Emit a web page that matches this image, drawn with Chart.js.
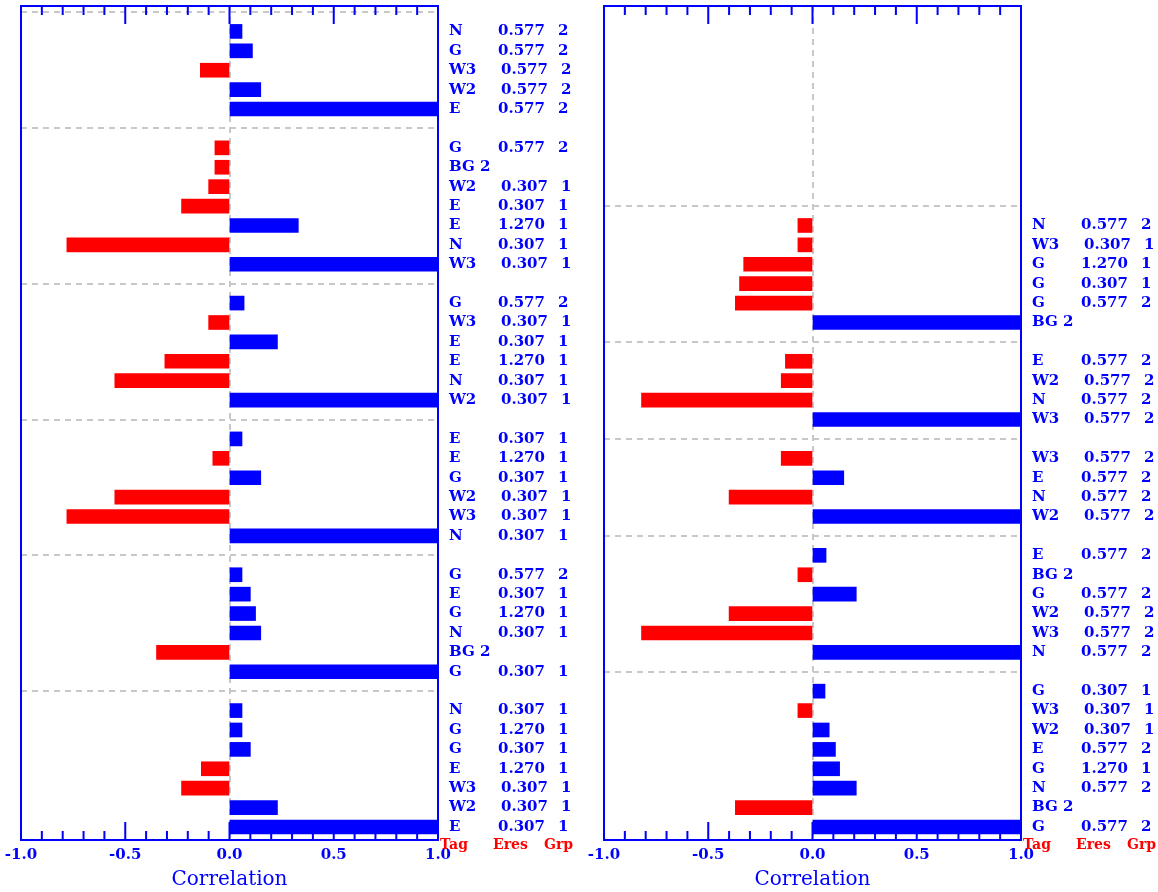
<!DOCTYPE html>
<html>
<head>
<meta charset="utf-8">
<script src="https://cdn.jsdelivr.net/npm/chart.js@4.4.1/dist/chart.umd.min.js"></script>
<style>
  html, body { margin: 0; padding: 0; background: #fff; }
  #wrap { position: relative; width: 1158px; height: 892px; }
  #leftChart { position: absolute; left: 0; top: 0; }
  #rightChart { position: absolute; left: 580px; top: 0; }
</style>
</head>
<body>
<div id="wrap">
  <canvas id="leftChart" width="580" height="892"></canvas>
  <canvas id="rightChart" width="578" height="892"></canvas>
</div>
<script>
// rows of each group, top to bottom
const leftTag = [
  ["N", "G", "W3", "W2", "E"],
  ["G", "BG", "W2", "E", "E", "N", "W3"],
  ["G", "W3", "E", "E", "N", "W2"],
  ["E", "E", "G", "W2", "W3", "N"],
  ["G", "E", "G", "N", "BG", "G"],
  ["N", "G", "G", "E", "W3", "W2", "E"]
];
const leftEres = [
  ["0.577", "0.577", "0.577", "0.577", "0.577"],
  ["0.577", "", "0.307", "0.307", "1.270", "0.307", "0.307"],
  ["0.577", "0.307", "0.307", "1.270", "0.307", "0.307"],
  ["0.307", "1.270", "0.307", "0.307", "0.307", "0.307"],
  ["0.577", "0.307", "1.270", "0.307", "", "0.307"],
  ["0.307", "1.270", "0.307", "1.270", "0.307", "0.307", "0.307"]
];
const leftGrp = [
  [2, 2, 2, 2, 2],
  [2, 2, 1, 1, 1, 1, 1],
  [2, 1, 1, 1, 1, 1],
  [1, 1, 1, 1, 1, 1],
  [2, 1, 1, 1, 2, 1],
  [1, 1, 1, 1, 1, 1, 1]
];
const leftCorr = [
  [0.06, 0.11, -0.14, 0.15, 1.0],
  [-0.07, -0.07, -0.10, -0.23, 0.33, -0.78, 1.0],
  [0.07, -0.10, 0.23, -0.31, -0.55, 1.0],
  [0.06, -0.08, 0.15, -0.55, -0.78, 1.0],
  [0.06, 0.10, 0.125, 0.15, -0.35, 1.0],
  [0.06, 0.06, 0.10, -0.135, -0.23, 0.23, 1.0]
];

const rightTag = [
  ["N", "W3", "G", "G", "G", "BG"],
  ["E", "W2", "N", "W3"],
  ["W3", "E", "N", "W2"],
  ["E", "BG", "G", "W2", "W3", "N"],
  ["G", "W3", "W2", "E", "G", "N", "BG", "G"]
];
const rightEres = [
  ["0.577", "0.307", "1.270", "0.307", "0.577", ""],
  ["0.577", "0.577", "0.577", "0.577"],
  ["0.577", "0.577", "0.577", "0.577"],
  ["0.577", "", "0.577", "0.577", "0.577", "0.577"],
  ["0.307", "0.307", "0.307", "0.577", "1.270", "0.577", "", "0.577"]
];
const rightGrp = [
  [2, 1, 1, 1, 2, 2],
  [2, 2, 2, 2],
  [2, 2, 2, 2],
  [2, 2, 2, 2, 2, 2],
  [1, 1, 1, 2, 1, 2, 2, 2]
];
const rightCorr = [
  [-0.07, -0.07, -0.33, -0.35, -0.37, 1.0],
  [-0.13, -0.15, -0.82, 1.0],
  [-0.15, 0.15, -0.40, 1.0],
  [0.065, -0.07, 0.21, -0.40, -0.82, 1.0],
  [0.06, -0.07, 0.08, 0.11, 0.13, 0.21, -0.37, 1.0]
];

const xTicks = [-1.0, -0.5, 0.0, 0.5, 1.0];
const footerCols = ["Tag", "Eres", "Grp"];
const totalSlots = 43;

const blue = '#0000ff';
const red = '#ff0000';
const gridGray = '#c8c8c8';
const serif = "'DejaVu Serif', 'Liberation Serif', serif";

// each group is preceded by a blank separator slot, panels are bottom aligned
function buildRows(tags, eres, grps, corr) {
  let count = 0;
  tags.forEach(g => count += g.length + 1);
  let slot = totalSlots - count;
  const rows = [];
  const seps = [];
  tags.forEach((g, gi) => {
    seps.push(slot);
    slot++;
    g.forEach((t, ri) => {
      rows.push({ slot: slot, tag: t, eres: eres[gi][ri], grp: grps[gi][ri], corr: corr[gi][ri] });
      slot++;
    });
  });
  return { rows, seps };
}

function decoPlugin(panel) {
  return {
    id: 'panelDeco',
    beforeDatasetsDraw(chart) {
      const ctx = chart.ctx;
      const a = chart.chartArea;
      const x = chart.scales.x, y = chart.scales.y;
      ctx.save();
      ctx.strokeStyle = gridGray;
      ctx.lineWidth = 2;
      ctx.setLineDash([6, 5]);
      panel.seps.forEach(s => {
        const py = Math.round(y.getPixelForValue(s));
        ctx.beginPath();
        ctx.moveTo(a.left, py);
        ctx.lineTo(a.right, py);
        ctx.stroke();
      });
      const px = Math.round(x.getPixelForValue(0));
      ctx.beginPath();
      ctx.moveTo(px, a.top);
      ctx.lineTo(px, a.bottom);
      ctx.stroke();
      ctx.restore();
    },
    afterDatasetsDraw(chart) {
      const ctx = chart.ctx;
      const a = chart.chartArea;
      const x = chart.scales.x, y = chart.scales.y;
      ctx.save();
      // frame and ticks
      ctx.strokeStyle = blue;
      ctx.lineWidth = 2;
      ctx.strokeRect(a.left, a.top, a.right - a.left, a.bottom - a.top);
      for (let i = -10; i <= 10; i++) {
        const px = x.getPixelForValue(i / 10);
        const len = (i % 5 === 0) ? 18 : 9;
        ctx.beginPath();
        ctx.moveTo(px, a.top);
        ctx.lineTo(px, a.top + len);
        ctx.moveTo(px, a.bottom);
        ctx.lineTo(px, a.bottom - len);
        ctx.stroke();
      }
      // row annotations
      ctx.fillStyle = blue;
      ctx.font = "bold 15px " + serif;
      ctx.textBaseline = 'middle';
      ctx.textAlign = 'left';
      panel.rows.forEach(r => {
        const py = y.getPixelForValue(r.slot);
        if (r.tag === 'BG') {
          ctx.fillText('BG ' + r.grp, a.right + 11, py);
          return;
        }
        const shift = r.tag.charAt(0) === 'W' ? 3 : 0;
        ctx.fillText(r.tag, a.right + 11, py);
        ctx.fillText(r.eres, a.right + 60 + shift, py);
        ctx.fillText(String(r.grp), a.right + 120 + shift, py);
      });
      // column heads under the panel
      ctx.fillStyle = red;
      ctx.textBaseline = 'alphabetic';
      ctx.font = "bold 14px " + serif;
      const colX = [2, 55, 106];
      footerCols.forEach((t, i) => ctx.fillText(t, a.right + colX[i], a.bottom + 9));
      ctx.restore();
    }
  };
}

function makePanel(canvasId, panel, padLeft, padRight) {
  const ctx = document.getElementById(canvasId).getContext('2d');
  new Chart(ctx, {
    type: 'bar',
    data: {
      datasets: [{
        data: panel.rows.map(r => ({ x: r.corr, y: r.slot })),
        backgroundColor: c => (c.raw && c.raw.x < 0) ? red : blue,
        borderWidth: 0,
        barThickness: 14
      }]
    },
    options: {
      indexAxis: 'y',
      responsive: false,
      animation: false,
      layout: { padding: { left: padLeft, right: padRight, top: 6, bottom: 2 } },
      plugins: { legend: { display: false }, tooltip: { enabled: false } },
      scales: {
        x: {
          type: 'linear',
          min: -1,
          max: 1,
          afterBuildTicks: s => { s.ticks = xTicks.map(v => ({ value: v })); },
          ticks: {
            color: blue,
            padding: 2,
            maxRotation: 0,
            font: { family: serif, size: 15, weight: 'bold', lineHeight: 1 },
            callback: v => Number(v).toFixed(1)
          },
          // invisible tick marks only push the labels down
          grid: {
            display: true,
            drawOnChartArea: false,
            drawTicks: true,
            tickLength: 6,
            color: 'rgba(0,0,0,0)'
          },
          border: { display: false },
          title: {
            display: true,
            text: 'Correlation',
            color: blue,
            font: { family: serif, size: 20, lineHeight: 1 },
            padding: { top: 5, bottom: 0 }
          }
        },
        y: {
          type: 'linear',
          display: false,
          offset: false,
          reverse: true,
          min: -0.31,
          max: 42.67
        }
      }
    },
    plugins: [decoPlugin(panel)]
  });
}

makePanel('leftChart', buildRows(leftTag, leftEres, leftGrp, leftCorr), 21, 142);
makePanel('rightChart', buildRows(rightTag, rightEres, rightGrp, rightCorr), 24, 137);
</script>
</body>
</html>
